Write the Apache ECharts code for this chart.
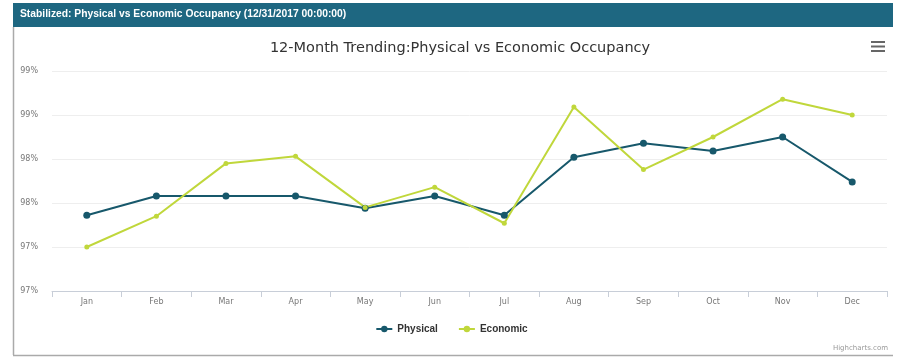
<!DOCTYPE html>
<html>
<head>
<meta charset="utf-8">
<script src="https://cdn.jsdelivr.net/npm/echarts@6/dist/echarts.min.js"></script>
<style>
html,body{margin:0;padding:0;background:#fff;}
#c{width:903px;height:357px;}
</style>
</head>
<body>
<div id="c"></div>
<script>
var categories = ['Jan','Feb','Mar','Apr','May','Jun','Jul','Aug','Sep','Oct','Nov','Dec'];
var physical = [97.86, 98.08, 98.08, 98.08, 97.94, 98.08, 97.86, 98.52, 98.68, 98.59, 98.75, 98.24];
var economic = [97.50, 97.85, 98.45, 98.53, 97.95, 98.18, 97.77, 99.09, 98.38, 98.75, 99.18, 99.00];
var yTickValues = [97, 97.5, 98, 98.5, 99, 99.5];
var yTickLabels = ['97%', '97%', '98%', '98%', '99%', '99%'];
var headerText = 'Stabilized: Physical vs Economic Occupancy (12/31/2017 00:00:00)';
var titleText = '12-Month Trending:Physical vs Economic Occupancy';

var chart = echarts.init(document.getElementById('c'));
chart.setOption({
  animation: false,
  backgroundColor: '#fff',
  title: {
    text: titleText,
    left: 455, top: 36, textAlign: 'center',
    textStyle: {fontFamily: 'DejaVu Sans', fontSize: 14.5, fontWeight: 'normal', color: '#333'}
  },
  legend: {
    data: ['Physical', 'Economic'],
    left: 'center', top: 319,
    itemWidth: 16, itemHeight: 8, itemGap: 20,
    textStyle: {fontFamily: 'Liberation Sans', fontSize: 10, fontWeight: 'bold', color: '#333'}
  },
  grid: {left: 52, right: 16, top: 71, bottom: 66},
  xAxis: {
    type: 'category', data: categories, boundaryGap: true,
    axisLine: {lineStyle: {color: '#c8ced8'}},
    axisTick: {show: true, length: 6, lineStyle: {color: '#c8ced8'}},
    axisLabel: {color: '#777', fontFamily: 'DejaVu Sans', fontSize: 8, margin: 7}
  },
  yAxis: {
    type: 'value', min: 97, max: 99.5, interval: 0.5,
    axisLine: {show: false}, axisTick: {show: false},
    splitLine: {lineStyle: {color: '#eeeeee'}},
    axisLabel: {
      color: '#777', fontFamily: 'DejaVu Sans', fontSize: 8, margin: 14,
      formatter: function (v) {
        for (var i = 0; i < yTickValues.length; i++) {
          if (Math.abs(yTickValues[i] - v) < 1e-6) return yTickLabels[i];
        }
        return '';
      }
    }
  },
  series: [
    {
      name: 'Physical', type: 'line', data: physical,
      symbol: 'circle', symbolSize: 7, showSymbol: true,
      itemStyle: {color: '#17586b'}, lineStyle: {color: '#17586b', width: 2}
    },
    {
      name: 'Economic', type: 'line', data: economic,
      symbol: 'circle', symbolSize: 5, showSymbol: true,
      itemStyle: {color: '#c0d73b'}, lineStyle: {color: '#c0d73b', width: 2}
    }
  ],
  graphic: [
    {type: 'rect', shape: {x: 13, y: 3, width: 880, height: 24}, style: {fill: '#1e6781'}, z: 10},
    {type: 'text', left: 20, top: 9, style: {text: headerText, fill: '#fff', font: 'bold 10.3px "Liberation Sans"'}, z: 11},
    {type: 'group', left: 877, top: 9, z: 11, children: [
      {type: 'polyline', shape: {points: [[0,3],[0,0],[3,0]]}, style: {stroke: '#a8dff0', lineWidth: 1.2, fill: null}},
      {type: 'polyline', shape: {points: [[7,0],[10,0],[10,3]]}, style: {stroke: '#a8dff0', lineWidth: 1.2, fill: null}},
      {type: 'polyline', shape: {points: [[0,7],[0,10],[3,10]]}, style: {stroke: '#a8dff0', lineWidth: 1.2, fill: null}},
      {type: 'polyline', shape: {points: [[7,10],[10,10],[10,7]]}, style: {stroke: '#a8dff0', lineWidth: 1.2, fill: null}}
    ]},
    {type: 'line', shape: {x1: 13.5, y1: 27, x2: 13.5, y2: 355}, style: {stroke: '#aaaaaa', lineWidth: 1.5}, z: 10},
    {type: 'line', shape: {x1: 13, y1: 355.5, x2: 893, y2: 355.5}, style: {stroke: '#aaaaaa', lineWidth: 1.5}, z: 10},
    {type: 'group', left: 871, top: 41, z: 11, children: [
      {type: 'rect', shape: {x: 0, y: 0, width: 14, height: 2}, style: {fill: '#666'}},
      {type: 'rect', shape: {x: 0, y: 4.5, width: 14, height: 2}, style: {fill: '#666'}},
      {type: 'rect', shape: {x: 0, y: 9, width: 14, height: 2}, style: {fill: '#666'}}
    ]},
    {type: 'text', right: 15, top: 345, style: {text: 'Highcharts.com', fill: '#999', font: '7px "DejaVu Sans"'}, z: 11}
  ]
});
</script>
</body>
</html>
